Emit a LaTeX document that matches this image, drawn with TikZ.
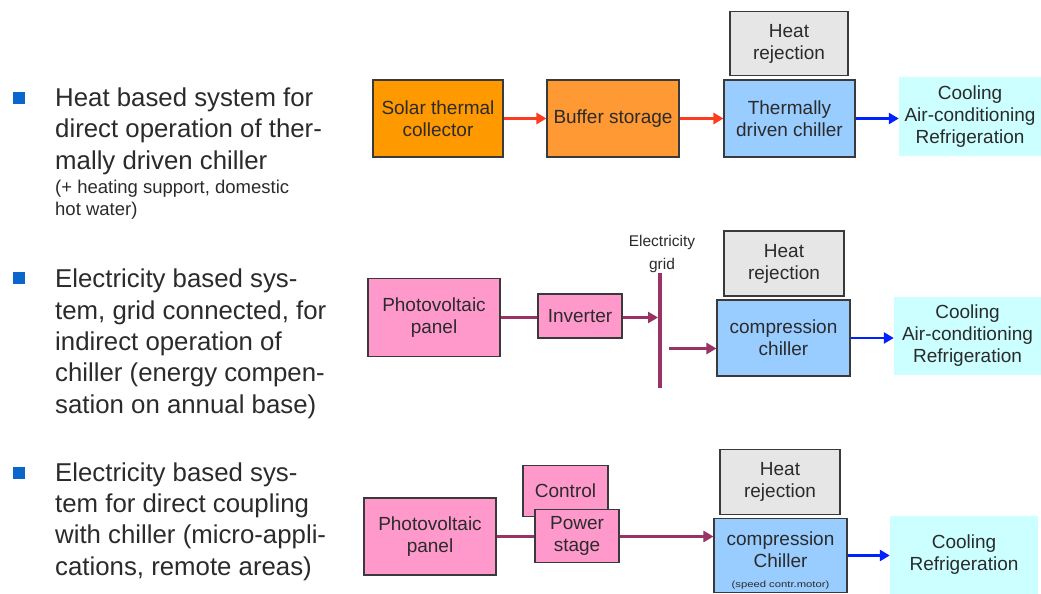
\documentclass[tikz,border=0pt]{standalone}
\usepackage{fontspec}
\setmainfont{Liberation Sans}
\usetikzlibrary{arrows.meta}
\definecolor{txt}{HTML}{2B2B2B}
\definecolor{bord}{HTML}{3A3A3A}
\definecolor{solarc}{HTML}{FF9900}
\definecolor{bufc}{HTML}{FF9933}
\definecolor{chillc}{HTML}{99CCFF}
\definecolor{hrc}{HTML}{E6E6E6}
\definecolor{coolc}{HTML}{CCFFFF}
\definecolor{pinkc}{HTML}{FF99CC}
\definecolor{elc}{HTML}{993366}
\definecolor{redc}{HTML}{FF3B1F}
\definecolor{bluec}{HTML}{0022FF}
\definecolor{bulc}{HTML}{0A66CC}
\begin{document}
\begin{tikzpicture}[x=1pt,y=-1pt,
  box/.style={draw=bord, line width=1.1pt, inner sep=0pt, align=center, text=txt,
    font=\fontsize{19}{22}\selectfont},
  coolbox/.style={fill=coolc, inner sep=0pt, align=center, text=txt,
    font=\fontsize{19}{22}\selectfont},
  lefttext/.style={inner sep=0pt, align=left, text=txt, anchor=base west,
    font=\fontsize{25.8}{31.3}\selectfont},
  smalltext/.style={inner sep=0pt, align=left, text=txt, anchor=base west,
    font=\fontsize{18.5}{22}\selectfont},
  bulletsq/.style={fill=bulc, minimum size=12.5pt, inner sep=0pt},
  redarr/.style={draw=redc, line width=2.6pt, -{Triangle[length=10pt,width=11pt]}},
  bluearr/.style={draw=bluec, line width=2.6pt, -{Triangle[length=10pt,width=11pt]}},
  elline/.style={draw=elc, line width=3pt},
  elarr/.style={draw=elc, line width=3pt, -{Triangle[length=10pt,width=11pt]}}
]
\useasboundingbox[fill=white] (0,0) rectangle (1041,594);

% ---------- left column (anchor = baseline of last line) ----------
\node[bulletsq] (b1) at (19,98) {};
\node[lefttext] (t1) at (55,169) {Heat based system for\\direct operation of ther-\\mally driven chiller};
\node[smalltext] (t1s) at (55,215) {(+ heating support, domestic\\hot water)};
\node[bulletsq] (b2) at (19,278) {};
\node[lefttext] (t2) at (55,413) {Electricity based sys-\\tem, grid connected, for\\indirect operation of\\chiller (energy compen-\\sation on annual base)};
\node[bulletsq] (b3) at (19,473) {};
\node[lefttext] (t3) at (55,575) {Electricity based sys-\\tem for direct coupling\\with chiller (micro-appli-\\cations, remote areas)};

% ---------- row 1 ----------
\node[box, fill=solarc, minimum width=130pt, minimum height=77pt] (solar) at (438,118.5) {Solar thermal\\collector};
\node[box, fill=bufc, minimum width=132pt, minimum height=77pt] (buffer) at (613,118.5) {Buffer storage};
\node[box, fill=chillc, minimum width=131pt, minimum height=77pt] (tchill) at (789.5,118.5) {Thermally\\driven chiller};
\node[box, fill=hrc, minimum width=118pt, minimum height=64pt] (hr1) at (789,43.5) {Heat\\rejection};
\node[coolbox, minimum width=142pt, minimum height=79pt] (cool1) at (970,116.5) {Cooling\\Air-conditioning\\Refrigeration};
\draw[redarr] (solar.east) -- (buffer.west);
\draw[redarr] (buffer.east) -- (tchill.west);
\draw[bluearr] (tchill.east) -- (tchill.east -| cool1.west);

% ---------- row 2 ----------
\node[box, fill=pinkc, minimum width=132pt, minimum height=77.5pt] (pv2) at (434,317.5) {Photovoltaic\\panel};
\node[box, fill=pinkc, minimum width=84pt, minimum height=44pt] (inv) at (580,316) {Inverter};
\node[inner sep=0pt, align=center, text=txt, font=\fontsize{15.5}{23}\selectfont] (gridlab) at (662,254) {Electricity\\grid};
\coordinate (gtop) at (660,273);
\coordinate (gbot) at (660,388);
\draw[draw=elc, line width=4pt] (gtop) -- (gbot);
\node[box, fill=hrc, minimum width=120pt, minimum height=65pt] (hr2) at (784,263.5) {Heat\\rejection};
\node[box, fill=chillc, minimum width=133pt, minimum height=76pt] (chill2) at (783.5,338) {compression\\chiller};
\node[coolbox, minimum width=147pt, minimum height=78pt] (cool2) at (967.5,336) {Cooling\\Air-conditioning\\Refrigeration};
\draw[elline] (pv2.east) -- (pv2.east -| inv.west);
\draw[elarr, shorten >=2pt] (inv.east |- pv2.east) -- (gtop |- pv2.east);
\coordinate (gout) at (669,348.5);
\draw[elarr] (gout) -- (gout -| chill2.west);
\draw[bluearr] (chill2.east) -- (chill2.east -| cool2.west);

% ---------- row 3 ----------
\node[box, fill=pinkc, minimum width=132pt, minimum height=77pt] (pv3) at (430,536.5) {Photovoltaic\\panel};
\node[box, fill=pinkc, minimum width=85pt, minimum height=51.5pt] (ctrl) at (565.5,491) {Control};
\node[box, fill=pinkc, minimum width=84pt, minimum height=52.5pt] (power) at (577,536) {Power\\stage};
\node[box, fill=hrc, minimum width=120pt, minimum height=64.5pt] (hr3) at (780,482) {Heat\\rejection};
\node[box, fill=chillc, minimum width=133pt, minimum height=74.5pt] (chill3) at (780.5,555.5) {\rule{0pt}{24pt}compression\\Chiller\\[-2pt]{\fontsize{9}{10}\selectfont\scalebox{1.25}[1]{(speed contr.motor)}}};
\node[coolbox, minimum width=148pt, minimum height=78.5pt] (cool3) at (964,555) {Cooling\\Refrigeration};
\draw[elline] (pv3.east) -- (pv3.east -| power.west);
\draw[elarr] (power.east |- pv3.east) -- (pv3.east -| chill3.west);
\draw[bluearr] (chill3.east) -- (chill3.east -| cool3.west);
\end{tikzpicture}
\end{document}
